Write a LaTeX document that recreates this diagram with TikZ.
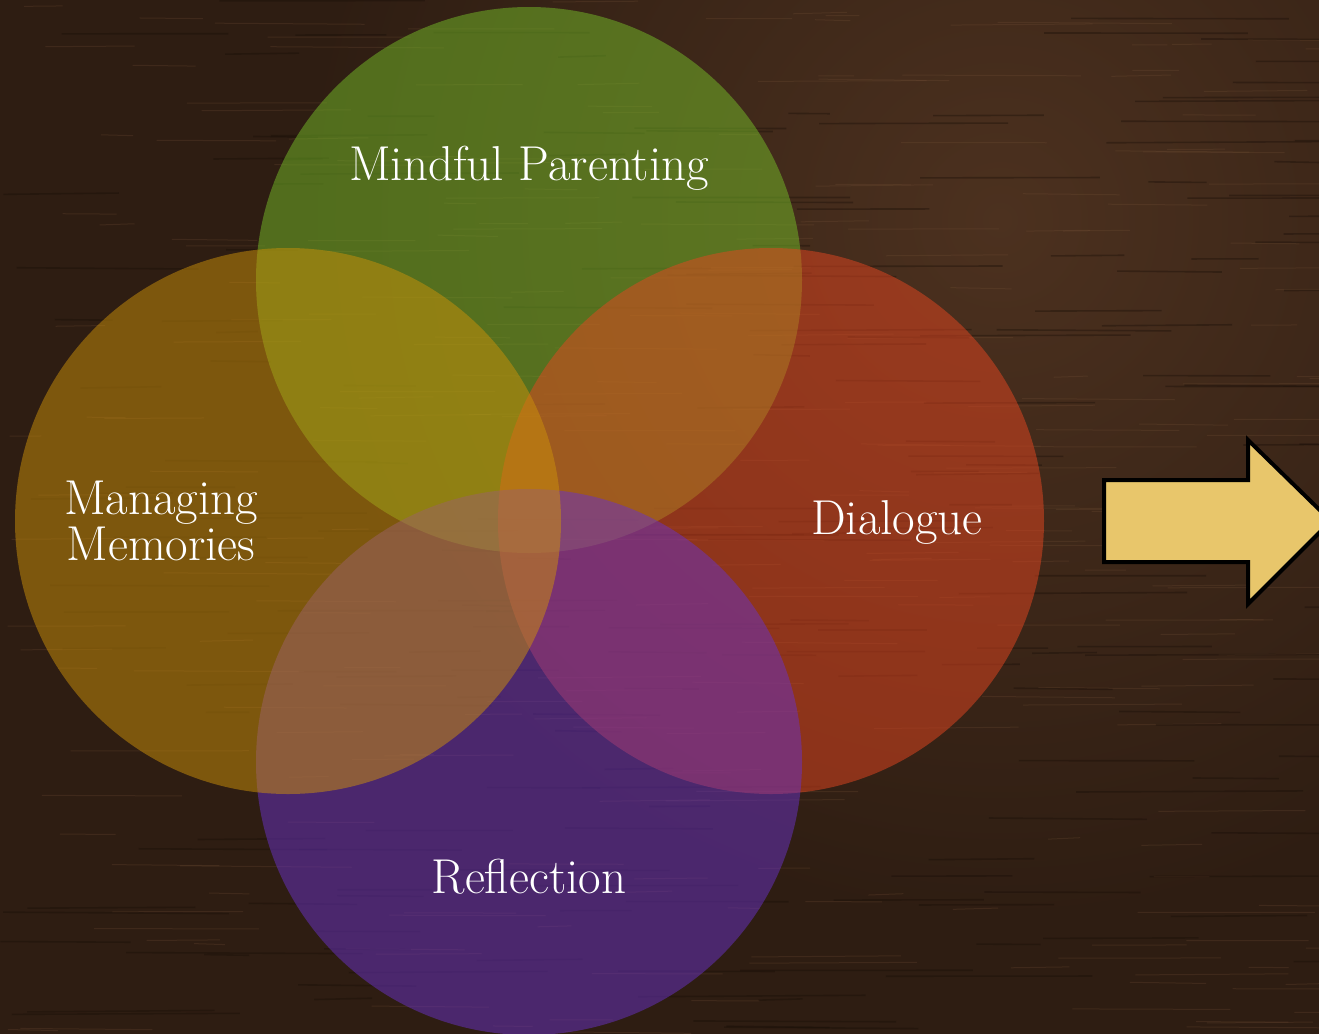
\documentclass[tikz,border=0pt]{standalone}
\usepackage{tikz}
\usetikzlibrary{positioning,calc}
\definecolor{wood}{RGB}{46,29,18}
\definecolor{woodlight}{RGB}{76,49,31}
\definecolor{grainc}{RGB}{125,88,60}
\definecolor{graind}{RGB}{22,12,6}
\definecolor{mindfulc}{RGB}{118,190,40}
\definecolor{memoryc}{RGB}{205,145,10}
\definecolor{dialogc}{RGB}{230,70,32}
\definecolor{reflectc}{RGB}{105,50,200}
\definecolor{arrowc}{RGB}{232,198,107}
\tikzset{petal/.style={circle,minimum size=273pt,inner sep=0pt,draw=none,fill opacity=0.5},
         label text/.style={text=white,font=\fontsize{24.5}{21}\selectfont,align=center},
         grain/.style={grainc,line width=0.5pt,opacity=0.22},
         dark grain/.style={graind,line width=0.8pt,opacity=0.35}}

\begin{document}
\begin{tikzpicture}[x=0.5pt,y=-0.5pt]
  \useasboundingbox (0,0) rectangle (1319,1034);
  \clip (0,0) rectangle (1319,1034);
  % wood background
  \fill[wood] (0,0) rectangle (1319,1034);
  \shade[inner color=woodlight,outer color=wood] (1000,220) circle (700);
  \pgfmathsetseed{11}
  \foreach \i in {1,...,260}
    \draw[grain] ({1319*rnd},{1034*rnd}) -- ++({30+150*rnd},{3*rnd-1.5});
  \foreach \i in {1,...,200}
    \draw[dark grain] ({1319*rnd},{1034*rnd}) -- ++({40+200*rnd},{3*rnd-1.5});
  % the four circles
  \node[petal,fill=mindfulc] (mindful) at (529,280) {};
  \node[petal,fill=dialogc] (dialogue) at (771,521) {};
  \node[petal,fill=reflectc] (reflection) at (529,762) {};
  \node[petal,fill=memoryc] (memories) at (288,521) {};
  \node[label text] (t-mindful) at (529,168) {Mindful Parenting};
  \node[label text] (t-memories) at (161,521) {Managing\\Memories};
  \node[label text] (t-dialogue) at (897,522) {Dialogue};
  \node[label text] (t-reflection) at (529,877) {Reflection};
  % arrow
  \draw[fill=arrowc,line width=2pt,line join=miter]
    (1104,480) -- (1248,480) -- (1248,440) -- (1331,521)
    -- (1248,604) -- (1248,562) -- (1104,562) -- cycle;
\end{tikzpicture}
\end{document}
